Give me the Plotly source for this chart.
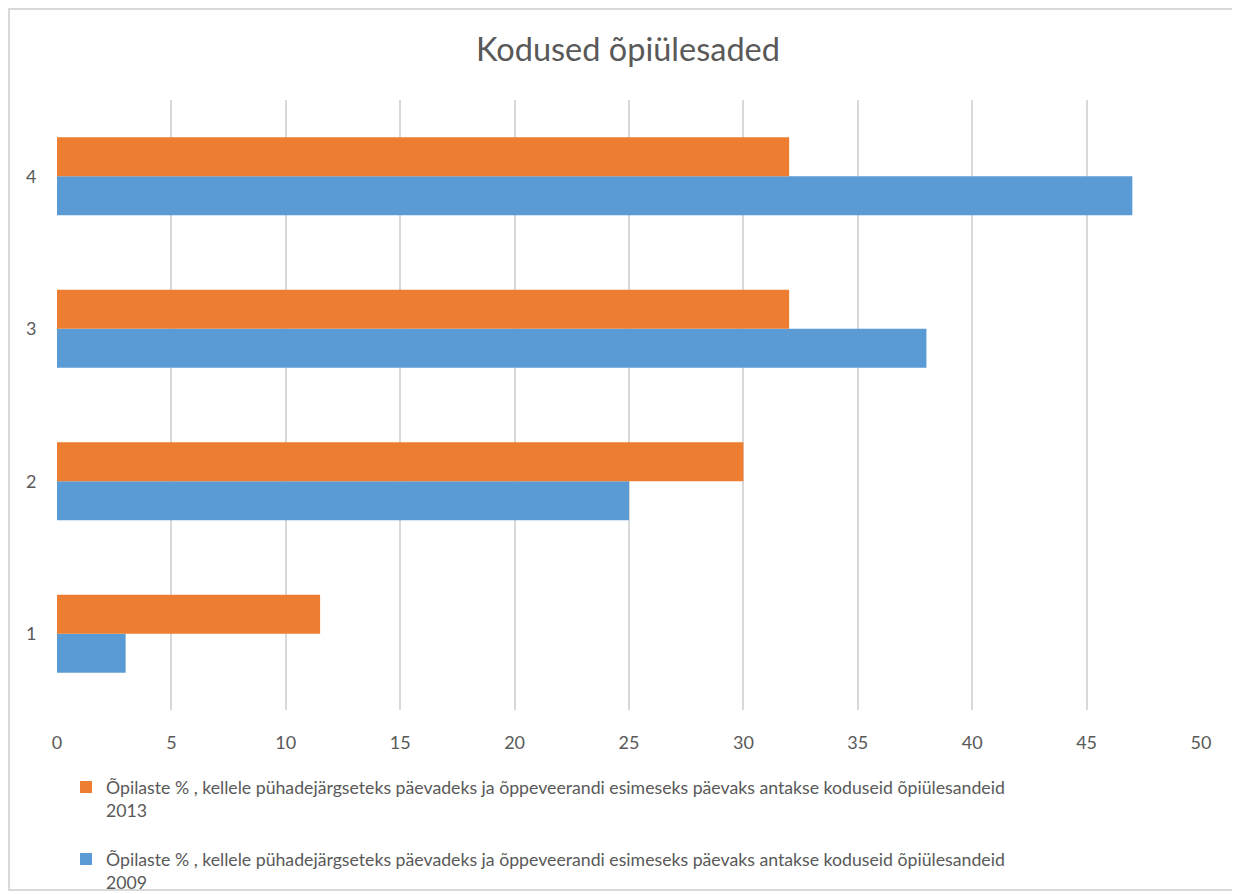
import plotly.graph_objects as go

categories = ["1", "2", "3", "4"]
values_2009 = [3, 25, 38, 47]
values_2013 = [11.5, 30, 32, 32]
label_2013 = "Õpilaste % , kellele pühadejärgseteks päevadeks ja õppeveerandi esimeseks päevaks antakse koduseid õpiülesandeid<br>2013"
label_2009 = "Õpilaste % , kellele pühadejärgseteks päevadeks ja õppeveerandi esimeseks päevaks antakse koduseid õpiülesandeid<br>2009"
title_text = "Kodused õpiülesaded"
x_ticks = [0, 5, 10, 15, 20, 25, 30, 35, 40, 45, 50]

FONT = "Lato, 'Open Sans', sans-serif"
GRAY = "#595959"

# page has an 8px body offset; work in figure coordinates
OFF = 8
PL, PR, PT, PB = 57 - OFF, 1201 - OFF, 100 - OFF, 710 - OFF
W, H = 1240, 894
pw, ph = PR - PL, PB - PT


def px(x):
    return (x - OFF - PL) / pw


def py(y):
    return (PB - (y - OFF)) / ph


bl, br, bt, bb = px(9), px(1237), py(9), py(890)

fig = go.Figure()
fig.add_trace(go.Bar(y=categories, x=values_2009, orientation="h", name=label_2009,
                     legendgroup="g2009", legendrank=2,
                     marker=dict(color="#5b9bd5", line=dict(width=0))))
fig.add_trace(go.Bar(y=categories, x=values_2013, orientation="h", name=label_2013,
                     legendgroup="g2013", legendrank=1,
                     marker=dict(color="#ed7d31", line=dict(width=0))))

fig.update_layout(
    width=W, height=H,
    paper_bgcolor="white", plot_bgcolor="white",
    barmode="group", bargap=0.49, bargroupgap=0,
    margin=dict(l=PL, r=W - PR, t=PT, b=H - PB, autoexpand=False),
    font=dict(family=FONT, color=GRAY, size=17),
    title=dict(text=title_text, x=0.5, xanchor="center", y=1 - 42 / H, yanchor="middle",
               font=dict(family=FONT, size=32.5, color=GRAY)),
    legend=dict(traceorder="grouped", x=px(83) - 17 / pw, xanchor="left",
                y=py(769), yanchor="top", valign="top",
                font=dict(family=FONT, size=17.7, color=GRAY), itemwidth=30,
                tracegroupgap=23, bgcolor="rgba(0,0,0,0)"),
    xaxis=dict(range=[0, 50], tickvals=x_ticks, showgrid=True, gridcolor="#d9d9d9", gridwidth=1.5,
               zeroline=False, showline=False, ticks="outside", ticklen=16,
               tickcolor="rgba(0,0,0,0)", tickfont=dict(size=18, color=GRAY)),
    yaxis=dict(range=[0.5, 4.5], type="linear", tickvals=[1, 2, 3, 4], ticktext=categories,
               showgrid=False, zeroline=False, showline=False, ticks="outside", ticklen=16,
               tickcolor="rgba(0,0,0,0)", tickfont=dict(size=18, color=GRAY)),
    shapes=[dict(type="rect", xref="paper", yref="paper", x0=bl, x1=br, y0=bb, y1=bt,
                 line=dict(color="#d9d9d9", width=2), layer="below")],
)

fig.write_html("out.html")
